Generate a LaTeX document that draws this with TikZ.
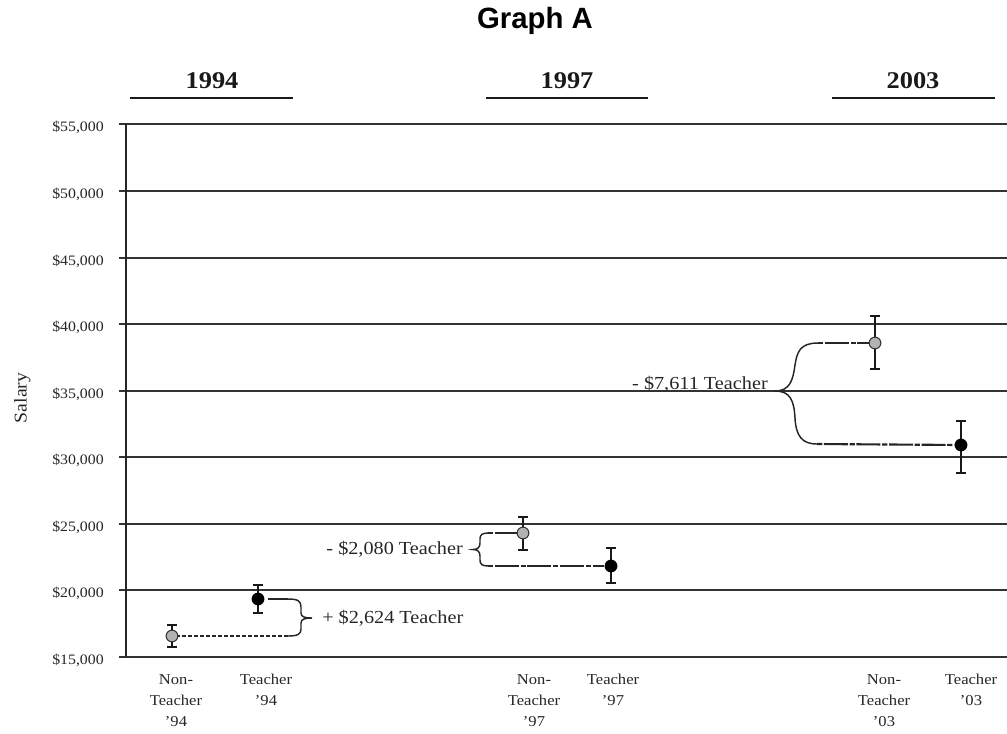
\documentclass[tikz,border=0pt]{standalone}
\usepackage{fontspec}
\setmainfont{Liberation Serif}[FakeStretch=1.1]
\newfontfamily\titlefont{Liberation Sans}
\newcommand\ebar[3]{\draw[ebarline] (#1,#2) -- (#1,#3) (#1-5,#2) -- (#1+5,#2) (#1-5,#3) -- (#1+5,#3);}
\begin{document}
\begin{tikzpicture}[x=0.75pt,y=-0.75pt,
  gridline/.style={line width=0.9pt,color=black!80},
  ticklab/.style={anchor=base east,inner sep=0pt,text=black!85,font=\fontsize{10.8}{13}\selectfont},
  xlab/.style={anchor=north,align=center,inner sep=0pt,text=black!85,font=\fontsize{11.3}{15.75}\selectfont},
  yearlab/.style={anchor=base,inner sep=0pt,text=black!90,font=\bfseries\fontsize{18}{20}\selectfont},
  yearline/.style={line width=2pt,color=black!90},
  difflab/.style={inner sep=0pt,text=black!85,font=\fontsize{13.8}{16}\selectfont},
  bracecurve/.style={line width=1.1pt,color=black!85},
  tlink/.style={line width=1.6pt,color=black!85,dash pattern=on 4pt off 1.2pt on 18pt off 1.2pt},
  ntlink/.style={line width=1.1pt,color=black!85,dash pattern=on 3pt off 1.5pt},
  ebarline/.style={line width=0.8pt,color=black!90},
  nonT/.style={circle,draw=black!80,line width=0.8pt,fill=black!30,minimum size=8.8pt,inner sep=0pt},
  teach/.style={circle,fill=black,minimum size=9.6pt,inner sep=0pt}]
\useasboundingbox (0,0) rectangle (1007,733);

% title
\node[anchor=base,inner sep=0pt,font=\titlefont\bfseries\fontsize{22}{24}\selectfont] (title) at (535,28) {Graph A};

% year headers
\node[yearlab] (y94) at (212,88) {1994};
\node[yearlab] (y97) at (567,88) {1997};
\node[yearlab] (y03) at (913,88) {2003};
\draw[yearline] (130,98) -- (293,98);
\draw[yearline] (486,98) -- (648,98);
\draw[yearline] (832,98) -- (995,98);

% grid and axis
\foreach \v/\yy in {55/124,50/191,45/258,40/324,35/391,30/457,25/524,20/590,15/657}{
  \draw[gridline] (119,\yy) -- (1007,\yy);
  \node[ticklab] at (104,\yy+7) {\$\v,000};
}
\draw[line width=0.9pt,color=black!85] (126,124) -- (126,657);
\node[rotate=90,anchor=base,inner sep=0pt,text=black!85,font=\fontsize{13.5}{16}\selectfont] (ylab) at (26.5,398) {Salary};

% x labels
\node[xlab] (lnt94) at (176,674) {Non-\\Teacher\\'94};
\node[xlab] (lt94) at (266,674) {Teacher\\'94};
\node[xlab] (lnt97) at (534,674) {Non-\\Teacher\\'97};
\node[xlab] (lt97) at (613,674) {Teacher\\'97};
\node[xlab] (lnt03) at (884,674) {Non-\\Teacher\\'03};
\node[xlab] (lt03) at (971,674) {Teacher\\'03};

% data points
\ebar{172}{625}{647}
\ebar{258}{585}{613}
\ebar{523}{517}{550}
\ebar{611}{548}{583}
\ebar{875}{316}{369}
\ebar{961}{421}{473}
\node[nonT] (NT94) at (172,636) {};
\node[teach] (T94) at (258,599) {};
\node[nonT] (NT97) at (523,533) {};
\node[teach] (T97) at (611,566) {};
\node[nonT] (NT03) at (875,343) {};
\node[teach] (T03) at (961,445) {};

% 1994 brace
\coordinate (b94t) at (288,599);
\coordinate (b94b) at (288,636);
\draw[bracecurve] (b94t) .. controls (298,599) and (301,601) .. (301,607) -- (301,613)
  .. controls (301,617) and (305,618) .. (312,618)
  .. controls (305,618) and (301,619) .. (301,623) -- (301,629)
  .. controls (301,634) and (298,636) .. (b94b);
\draw[line width=1.6pt,color=black!85,shorten <=2.5pt] (T94) -- (b94t);
\draw[ntlink] (b94b) -- (NT94);
\node[difflab,anchor=base west] (d94) at (322,623.5) {+ \$2,624 Teacher};

% 1997 brace
\coordinate (b97t) at (488,533);
\coordinate (b97b) at (488,566);
\draw[bracecurve] (b97t) .. controls (482,533) and (480,535) .. (480,539) -- (480,543)
  .. controls (480,547) and (478,549.5) .. (473,549.5)
  .. controls (478,549.5) and (480,552) .. (480,556) -- (480,560)
  .. controls (480,564) and (482,566) .. (b97b);
\draw[tlink] (b97t) -- (NT97);
\draw[tlink] (b97b) -- (T97);
\node[difflab,anchor=base east] (d97) at (463,554.5) {- \$2,080 Teacher};

% 2003 brace
\coordinate (b03t) at (818,343);
\coordinate (b03b) at (817,444);
\draw[bracecurve] (b03t) .. controls (800,343) and (797,352) .. (795,365)
  .. controls (793,380) and (790,391) .. (775,391)
  .. controls (790,391) and (794,400) .. (795,418)
  .. controls (796,436) and (802,444) .. (b03b);
\draw[tlink] (b03t) -- (NT03);
\draw[tlink] (b03b) -- (T03);
\node[difflab,anchor=base east] (d03) at (768,389.5) {- \$7,611 Teacher};
\end{tikzpicture}
\end{document}
